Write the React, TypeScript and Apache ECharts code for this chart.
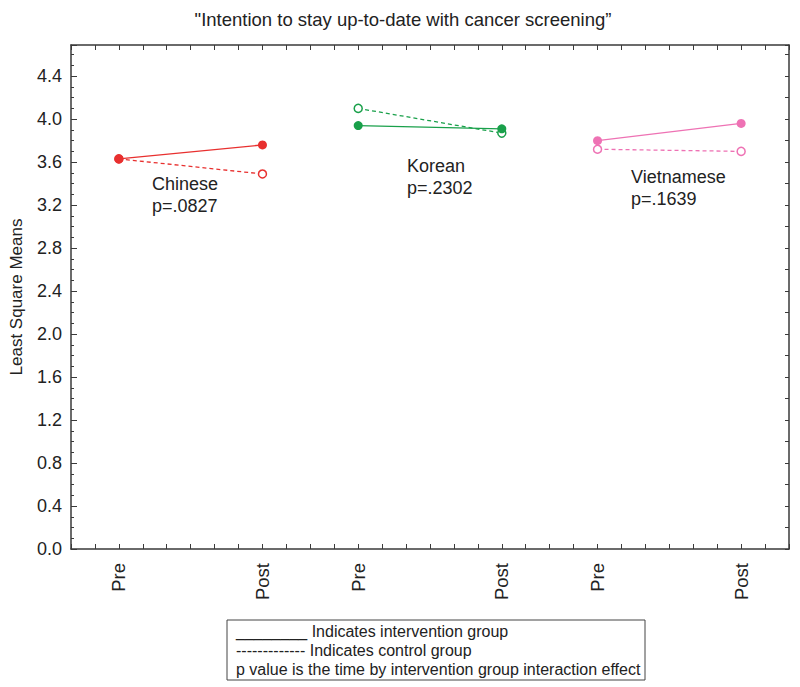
import React, { useEffect, useRef } from 'react';
import * as echarts from 'echarts';

const groups = ['Chinese', 'Korean', 'Vietnamese'];
const timeLabels = ['Pre', 'Post'];
const xPositions = [[1, 4], [6, 9], [11, 14]];
const intervention = [[3.63, 3.76], [3.94, 3.91], [3.80, 3.96]];
const control = [[3.63, 3.49], [4.10, 3.87], [3.72, 3.70]];
const pValues = ['p=.0827', 'p=.2302', 'p=.1639'];
const colors = ['#e8302f', '#19a04a', '#ee72b4'];
const legendLines = [
  '________ Indicates intervention group',
  '------------- Indicates control group',
  'p value is the time by intervention group interaction effect',
];
const titleText = '"Intention to stay up-to-date with cancer screening\u201d';
const yAxisName = 'Least Square Means';

const FONT = 'Liberation Sans, Arial, Helvetica, sans-serif';
const TEXT = '#222';
const AXIS = '#3a3a3a';

export default function App() {
  const ref = useRef<HTMLDivElement>(null);
  useEffect(() => {
    if (!ref.current) return;
    const chart = echarts.init(ref.current, undefined, { renderer: 'svg' });

    const labelMap: Record<string, string> = {};
    xPositions.forEach((pair) => pair.forEach((x, i) => { labelMap[String(x)] = timeLabels[i]; }));

    const series: any[] = [];
    groups.forEach((g, gi) => {
      series.push({
        name: g + ' intervention',
        type: 'line',
        data: xPositions[gi].map((x, i) => [x, intervention[gi][i]]),
        symbol: 'circle',
        symbolSize: 9,
        itemStyle: { color: colors[gi] },
        lineStyle: { color: colors[gi], width: 1.3, type: 'solid' },
        z: 3,
      });
      series.push({
        name: g + ' control',
        type: 'line',
        data: xPositions[gi].map((x, i) => [x, control[gi][i]]),
        symbol: 'circle',
        symbolSize: 8,
        itemStyle: { color: '#fff', borderColor: colors[gi], borderWidth: 1.5 },
        lineStyle: { color: colors[gi], width: 1.3, type: [4, 3] },
        z: 2,
      });
    });

    const annot = [
      { x: 152, y: 184 },
      { x: 407, y: 166 },
      { x: 631, y: 177 },
    ];
    const graphics: any[] = [
      {
        type: 'text', x: 403, y: 19,
        style: { text: titleText, font: `18.5px ${FONT}`, fill: TEXT, textAlign: 'center', textVerticalAlign: 'middle' },
      },
      {
        type: 'rect', shape: { x: 227, y: 620, width: 418, height: 60 },
        style: { fill: '#fff', stroke: '#444', lineWidth: 1 },
      },
    ];
    legendLines.forEach((t, i) => {
      graphics.push({
        type: 'text', x: 236, y: 631 + i * 19,
        style: { text: t, font: `16px ${FONT}`, fill: TEXT, textAlign: 'left', textVerticalAlign: 'middle' },
      });
    });
    groups.forEach((g, gi) => {
      graphics.push({
        type: 'text', x: annot[gi].x, y: annot[gi].y,
        style: { text: g, font: `18px ${FONT}`, fill: TEXT, textAlign: 'left', textVerticalAlign: 'middle' },
      });
      graphics.push({
        type: 'text', x: annot[gi].x, y: annot[gi].y + 22,
        style: { text: pValues[gi], font: `18px ${FONT}`, fill: TEXT, textAlign: 'left', textVerticalAlign: 'middle' },
      });
    });

    chart.setOption({
      animation: false,
      backgroundColor: '#fff',
      grid: { left: 69, right: 11, top: 45, bottom: 138, containLabel: false },
      xAxis: [
        {
          type: 'value', min: 0, max: 15, interval: 0.5, position: 'bottom',
          axisLine: { show: true, onZero: false, lineStyle: { color: AXIS, width: 1.5 } },
          axisTick: { show: true, inside: true, length: 5, lineStyle: { color: AXIS } },
          splitLine: { show: false },
          axisLabel: {
            show: true, rotate: 90, margin: 14, fontSize: 18.5, color: TEXT, fontFamily: FONT,
            hideOverlap: false, showMinLabel: true, showMaxLabel: true,
            formatter: (v: number) => labelMap[String(v)] || '',
          },
        },
        {
          type: 'value', min: 0, max: 15, interval: 0.5, position: 'top',
          axisLine: { show: true, onZero: false, lineStyle: { color: AXIS, width: 1.5 } },
          axisTick: { show: true, inside: true, length: 5, lineStyle: { color: AXIS } },
          splitLine: { show: false }, axisLabel: { show: false },
        },
      ],
      yAxis: [
        {
          type: 'value', min: 0, max: 4.69, interval: 0.4, position: 'left',
          name: yAxisName, nameLocation: 'middle', nameGap: 46, nameRotate: 90,
          nameTextStyle: { fontSize: 17, color: TEXT, fontFamily: FONT },
          axisLine: { show: true, onZero: false, lineStyle: { color: AXIS, width: 1.5 } },
          axisTick: { show: true, inside: true, length: 6, lineStyle: { color: AXIS } },
          minorTick: { show: true, splitNumber: 4, length: 3, lineStyle: { color: AXIS } },
          splitLine: { show: false },
          axisLabel: {
            fontSize: 18, color: TEXT, fontFamily: FONT, margin: 9,
            formatter: (v: number) => {
              const k = v / 0.4;
              return Math.abs(k - Math.round(k)) < 1e-6 ? v.toFixed(1) : '';
            },
          },
        },
        {
          type: 'value', min: 0, max: 4.69, interval: 0.2, position: 'right',
          axisLine: { show: true, onZero: false, lineStyle: { color: AXIS, width: 1.5 } },
          axisTick: { show: true, inside: true, length: 4, lineStyle: { color: AXIS } },
          splitLine: { show: false }, axisLabel: { show: false },
        },
      ],
      series,
      graphic: graphics,
    });

    return () => chart.dispose();
  }, []);

  return <div ref={ref} style={{ width: 800, height: 687, position: 'absolute', left: 0, top: 0 }} />;
}
